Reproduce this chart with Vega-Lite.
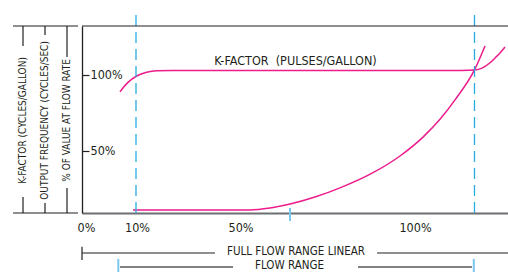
{
  "$schema": "https://vega.github.io/schema/vega-lite/v6.json",
  "width": 426,
  "height": 187,
  "autosize": {"type": "none"},
  "padding": {"left": 82, "top": 26, "right": 0, "bottom": 59},
  "background": "white",
  "config": {
    "view": {"stroke": null},
    "font": "DejaVu Sans Condensed, Liberation Sans",
    "axis": {"grid": false, "labelFont": "DejaVu Sans Condensed, Liberation Sans", "labelColor": "#231f20", "labelFontSize": 12.5}
  },
  "datasets": {
    "curves": [
      {"series": "K-FACTOR", "u": 38, "v": 89.0},
      {"series": "K-FACTOR", "u": 46, "v": 95.1},
      {"series": "K-FACTOR", "u": 54.7, "v": 99.3},
      {"series": "K-FACTOR", "u": 64.7, "v": 101.8},
      {"series": "K-FACTOR", "u": 74.7, "v": 102.8},
      {"series": "K-FACTOR", "u": 90, "v": 103.0},
      {"series": "K-FACTOR", "u": 380, "v": 103.0},
      {"series": "K-FACTOR", "u": 392.5, "v": 103.3},
      {"series": "K-FACTOR", "u": 400, "v": 104.5},
      {"series": "K-FACTOR", "u": 408, "v": 108.0},
      {"series": "K-FACTOR", "u": 414, "v": 111.8},
      {"series": "K-FACTOR", "u": 418, "v": 114.5},
      {"series": "K-FACTOR", "u": 423, "v": 118.4},
      {"series": "FREQUENCY", "u": 51, "v": 11.2},
      {"series": "FREQUENCY", "u": 168, "v": 11.2},
      {"series": "FREQUENCY", "u": 188, "v": 12.5},
      {"series": "FREQUENCY", "u": 208, "v": 15.1},
      {"series": "FREQUENCY", "u": 233, "v": 19.7},
      {"series": "FREQUENCY", "u": 258, "v": 25.7},
      {"series": "FREQUENCY", "u": 291, "v": 35.7},
      {"series": "FREQUENCY", "u": 318, "v": 46.7},
      {"series": "FREQUENCY", "u": 341, "v": 59.1},
      {"series": "FREQUENCY", "u": 358, "v": 70.8},
      {"series": "FREQUENCY", "u": 373, "v": 83.6},
      {"series": "FREQUENCY", "u": 393, "v": 104.0},
      {"series": "FREQUENCY", "u": 403, "v": 119.1}
    ],
    "dashed": [
      {"u": 54, "v": 9.2, "v2": 141.4},
      {"u": 392.5, "v": 9.2, "v2": 141.4}
    ],
    "bluetick": [
      {"u": 208, "v": 12.5, "v2": 3.9},
      {"u": 36.3, "v": -21.0, "v2": -29.6},
      {"u": 391.8, "v": -21.0, "v2": -29.6}
    ],
    "segments": [
      {"kind": "frame", "u": 0, "u2": 426, "v": 132.2, "v2": 132.2},
      {"kind": "frame", "u": -69, "u2": -4, "v": 132.2, "v2": 132.2},
      {"kind": "frame", "u": -69, "u2": -4, "v": 9.2, "v2": 9.2},
      {"kind": "frame", "u": -59, "u2": -59, "v": 132.2, "v2": 119.1},
      {"kind": "frame", "u": -59, "u2": -59, "v": 19.7, "v2": 9.2},
      {"kind": "frame", "u": -37, "u2": -37, "v": 132.2, "v2": 126.3},
      {"kind": "frame", "u": -37, "u2": -37, "v": 15.8, "v2": 9.2},
      {"kind": "frame", "u": -15, "u2": -15, "v": 132.2, "v2": 111.8},
      {"kind": "frame", "u": -15, "u2": -15, "v": 25.7, "v2": 9.2},
      {"kind": "frame", "u": 0, "u2": 133, "v": -17.1, "v2": -17.1},
      {"kind": "frame", "u": 295, "u2": 426, "v": -17.1, "v2": -17.1},
      {"kind": "frame", "u": 0, "u2": 0, "v": -13.0, "v2": -21.7},
      {"kind": "range", "u": 38, "u2": 151, "v": -26.3, "v2": -26.3},
      {"kind": "range", "u": 276, "u2": 390, "v": -26.3, "v2": -26.3}
    ],
    "labels": [
      {"kind": "plot", "text": "K-FACTOR\u00a0\u00a0(PULSES/GALLON)", "u": 213.5, "v": 109.2},
      {"kind": "side", "text": "K-FACTOR (CYCLES/GALLON)", "u": -59, "v": 70.1},
      {"kind": "side", "text": "OUTPUT FREQUENCY (CYCLES/SEC)", "u": -37, "v": 70.1},
      {"kind": "side", "text": "% OF VALUE AT FLOW RATE", "u": -15, "v": 70.1},
      {"kind": "bottom", "text": "FULL FLOW RANGE LINEAR", "u": 214, "v": -16.5},
      {"kind": "bottom", "text": "FLOW RANGE", "u": 207.5, "v": -25.4}
    ]
  },
  "layer": [
    {
      "data": {"name": "curves"},
      "mark": {"type": "line", "color": "#ec1c8c", "strokeWidth": 1.5, "interpolate": "monotone"},
      "encoding": {
        "x": {"field": "u", "type": "quantitative", "scale": {"domain": [0, 426], "nice": false, "zero": false},
          "axis": {"title": null, "values": [4, 55, 158.5, 333], "ticks": false, "labelPadding": 8, "labelFlush": false, "labelOverlap": false,
            "labelExpr": "datum.value == 4 ? '0%' : datum.value == 55 ? '10%' : datum.value == 158.5 ? '50%' : '100%'",
            "domainColor": "#6d6e71", "domainWidth": 2}},
        "y": {"field": "v", "type": "quantitative", "scale": {"domain": [9.2, 132.2], "nice": false, "zero": false},
          "axis": {"title": null, "values": [50, 100], "labelExpr": "datum.value + '%'", "tickSize": -7, "labelPadding": -1, "labelAlign": "left",
            "tickColor": "#231f20", "domainColor": "#231f20", "domainWidth": 1.3, "tickWidth": 1.2}},
        "detail": {"field": "series"}
      }
    },
    {
      "data": {"name": "dashed"},
      "mark": {"type": "rule", "color": "#29abe2", "strokeWidth": 1.3, "strokeDash": [11, 6]},
      "encoding": {"x": {"field": "u", "type": "quantitative"}, "y": {"field": "v", "type": "quantitative"}, "y2": {"field": "v2"}}
    },
    {
      "data": {"name": "bluetick"},
      "mark": {"type": "rule", "color": "#7cc8ec", "strokeWidth": 2},
      "encoding": {"x": {"field": "u", "type": "quantitative"}, "y": {"field": "v", "type": "quantitative"}, "y2": {"field": "v2"}}
    },
    {
      "data": {"name": "segments"},
      "transform": [{"filter": "datum.kind == 'frame'"}],
      "mark": {"type": "rule", "color": "#231f20", "strokeWidth": 1.2},
      "encoding": {"x": {"field": "u", "type": "quantitative"}, "x2": {"field": "u2"}, "y": {"field": "v", "type": "quantitative"}, "y2": {"field": "v2"}}
    },
    {
      "data": {"name": "segments"},
      "transform": [{"filter": "datum.kind == 'range'"}],
      "mark": {"type": "rule", "color": "#58595b", "strokeWidth": 1.6},
      "encoding": {"x": {"field": "u", "type": "quantitative"}, "x2": {"field": "u2"}, "y": {"field": "v", "type": "quantitative"}, "y2": {"field": "v2"}}
    },
    {
      "data": {"name": "labels"},
      "transform": [{"filter": "datum.kind == 'plot'"}],
      "mark": {"type": "text", "fontSize": 12.5, "color": "#231f20", "align": "center", "baseline": "middle"},
      "encoding": {"x": {"field": "u", "type": "quantitative"}, "y": {"field": "v", "type": "quantitative"}, "text": {"field": "text"}}
    },
    {
      "data": {"name": "labels"},
      "transform": [{"filter": "datum.kind == 'bottom'"}],
      "mark": {"type": "text", "fontSize": 11.5, "color": "#231f20", "align": "center", "baseline": "middle"},
      "encoding": {"x": {"field": "u", "type": "quantitative"}, "y": {"field": "v", "type": "quantitative"}, "text": {"field": "text"}}
    },
    {
      "data": {"name": "labels"},
      "transform": [{"filter": "datum.kind == 'side'"}],
      "mark": {"type": "text", "fontSize": 10, "color": "#231f20", "align": "center", "baseline": "middle", "angle": 270},
      "encoding": {"x": {"field": "u", "type": "quantitative"}, "y": {"field": "v", "type": "quantitative"}, "text": {"field": "text"}}
    }
  ]
}
